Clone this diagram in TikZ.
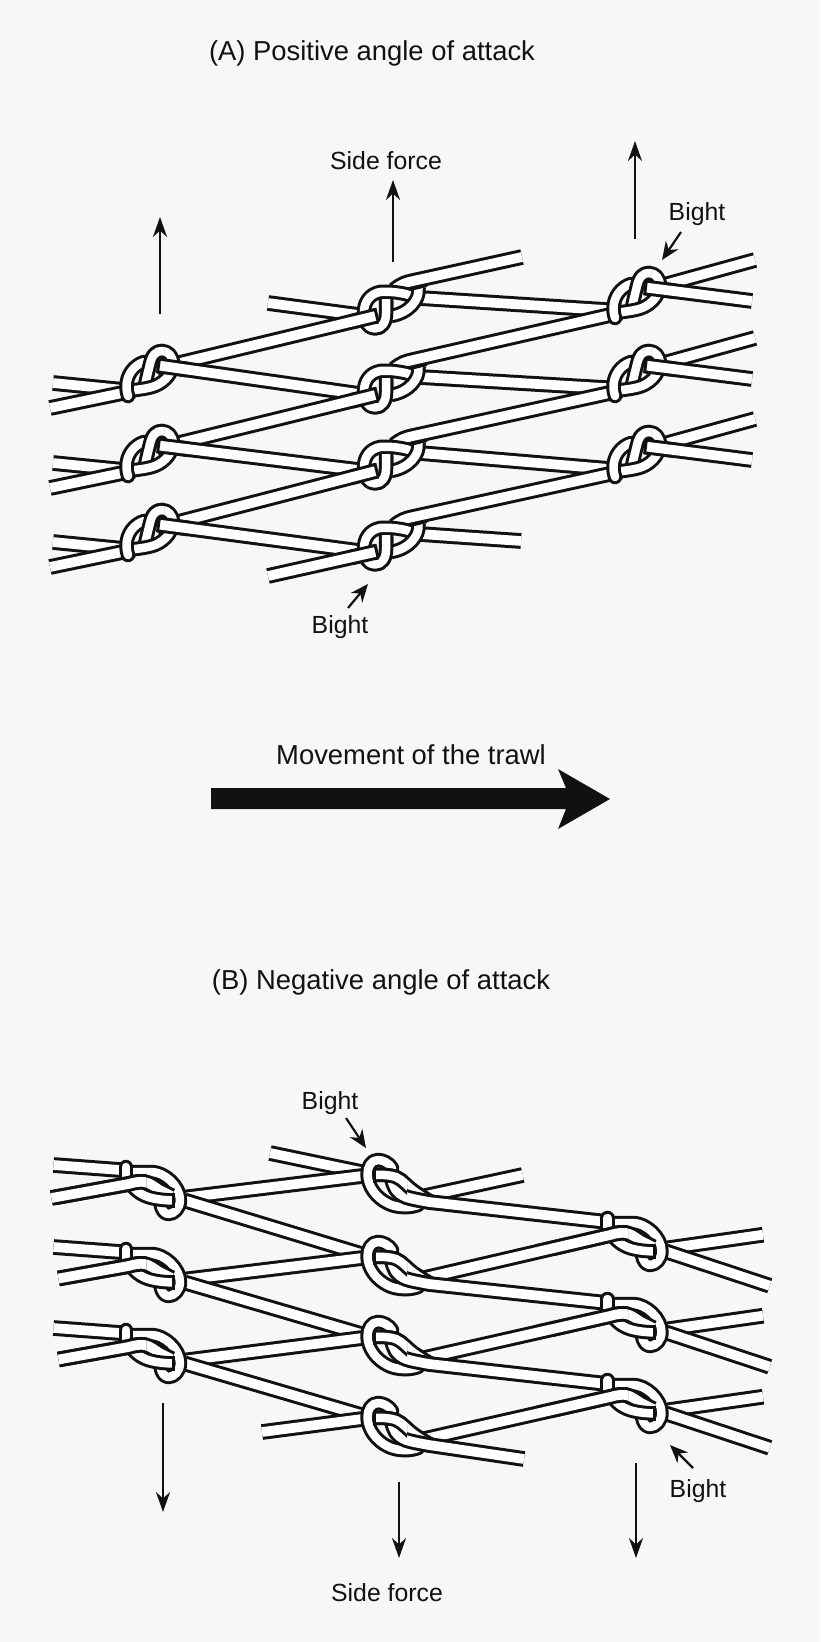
\documentclass[tikz,border=0pt]{standalone}
\usepackage{fontspec}
\setmainfont{Liberation Sans}
\usetikzlibrary{calc,arrows.meta}
\definecolor{bgc}{HTML}{F7F7F7}
\definecolor{ink}{HTML}{111111}
\tikzset{
  tw/.style={double=white,double distance=9.7pt,line width=3pt,line join=round,draw=ink},
  tk/.style={double=white,double distance=8.5pt,line width=3pt,line join=round,draw=ink},
  tkr/.style={tk,line cap=round},
  tick/.style={line width=3pt,draw=ink},
  force/.style={line width=2.5pt,draw=ink,-{Stealth[length=20pt,width=14pt]}},
  bightarrow/.style={line width=2.2pt,draw=ink,-{Stealth[length=18pt,width=15pt]}},
  title/.style={font=\fontsize{27.4}{32}\selectfont,text=ink,inner sep=0pt},
  lab/.style={font=\fontsize{24.8}{29}\selectfont,text=ink,inner sep=0pt}
}
\newcommand\stubclosed[3]{%
  \draw[tw] (#1) -- ($(#1)!#3pt!(#2)$);
  \draw[white,line width=9pt] ($(#1)!#3pt-2pt!(#2)$) -- ($(#1)!#3pt+2pt!(#2)$);
  \draw[tick] ($(#1)!7.85pt!90:(#2)$) -- ($(#1)!7.85pt!-90:(#2)$);
}
\newcommand\knotP[2]{%
\begin{scope}[shift={(#1)}]
  \def\slant{(-4,12) .. controls (-2,3) and (0,-5) .. (1,-9) .. controls (3,-18) and (7,-22) .. (13,-22) .. controls (19,-22) and (24,-17) .. (24,-9)}
  \draw[tk] \slant;
  \draw[tk] (24,-12) .. controls (24.5,-2) and (18,8) .. (6,13) .. controls (-2,16) and (-12,16.5) .. (-20,18);
  \draw[tkr] (-5,-11) .. controls (-15,-8) and (-22.5,2) .. (-22.5,13) .. controls (-22.5,17) and (-22,20) .. (-21,23);
  \begin{scope}
    \clip (-30,-3) rectangle (15,-40);
    \draw[tk] \slant;
  \end{scope}
  \stubclosed{9.5,-7.5}{#2}{30}
\end{scope}}
\newcommand\knotK[2]{%
\begin{scope}[shift={(#1)}]
  \def\loopp{(24,-13) .. controls (14,-17) and (0,-19) .. (-11,-18) .. controls (-22,-16) and (-27,-7) .. (-27,2) .. controls (-27,12) and (-23,18.5) .. (-16,18.5) .. controls (-9,18.5) and (-5,12) .. (-5,4) -- (-5,-11)}
  \draw[tk] \loopp;
  \draw[tk] (27.5,-22.5) .. controls (29,-10) and (18,3) .. (0,6);
  \draw[tick] (19,-20.5) -- (36,-24.5);
  \stubclosed{-14.3,5.7}{#2}{26}
  \begin{scope}
    \clip (-12,-9) rectangle (8,30);
    \draw[tk] \loopp;
  \end{scope}
\end{scope}}
\newcommand\knotM[2]{%
\begin{scope}[shift={(#1)}]
  \def\inner{(-12,-5) .. controls (-4,-5.5) and (4,-5) .. (10,-3) .. controls (17,0) and (22,7) .. (28,11) .. controls (34,15) and (41,20) .. (48,23)}
  \draw[tkr] (6,-12) .. controls (3,-17) and (-3,-20) .. (-8,-20) .. controls (-15,-20) and (-18.5,-13) .. (-18.5,-6) .. controls (-18.5,6) and (-10,18) .. (3,24) .. controls (12,28) and (24,28) .. (32,25);
  \draw[tk] \inner;
  \draw[tw] (6,-2) .. controls (7,6) and (10,13) .. (20,17) .. controls (26,19) and (35,20.5) .. (43,22) -- (#2);
  \begin{scope}
    \clip (-20,-25) rectangle (21,14);
    \draw[tk] \inner;
  \end{scope}
  \draw[tick] (-12,-12.5) -- (-12,2.5);
\end{scope}}
\newcommand\knotS[2]{%
\begin{scope}[shift={(#1)}]
  \draw[tk] (-30,-20) -- (-10,-20) .. controls (3,-20) and (18.5,-6) .. (18.5,8) .. controls (18.5,16) and (13,22) .. (7,22) .. controls (3,22) and (0,18) .. (-1,12);
  \draw[tkr] (-35.6,-15) -- (-35.6,-25);
  \def\mainp{(#2) -- (-33,-8) .. controls (-26,-10) and (-22,-10.5) .. (-17,-10) .. controls (-11,-9) and (-7,-5) .. (-2,-2) -- (10,4)}
  \draw[tw] \mainp;
  \draw[tk] (-30,-7) .. controls (-25,0) and (-18,4) .. (-10,6) .. controls (-4,7.5) and (4,8.4) .. (11.7,8.4);
  \draw[tick] (11.7,1) -- (11.7,15.5);
  \begin{scope}
    \clip (-130,-40) rectangle (-15,12);
    \draw[tw] \mainp;
  \end{scope}
\end{scope}}
\begin{document}
\begin{tikzpicture}[x=1pt,y=-1pt]
\useasboundingbox (0,0) rectangle (820,1642);
\fill[bgc] (0,0) rectangle (820,1642);
\node[title] (ta) at (372,53) {(A) Positive angle of attack};
\node[title] (tb) at (381,982) {(B) Negative angle of attack};
\node[title] (mv) at (411,755) {Movement of the trawl};
\node[lab] (sa) at (386,161) {Side force};
\node[lab] (sb) at (387,1593) {Side force};
\node[lab] (b1) at (697,214) {Bight};
\node[lab] (b2) at (340,627) {Bight};
\node[lab] (b3) at (330,1103) {Bight};
\node[lab] (b4) at (698,1491) {Bight};
\fill[ink] (211,788) -- (566,788) -- (558,769) -- (610,799) -- (558,829) -- (566,809) -- (211,809) -- cycle;
% panel A
\foreach \n/\p in {a11/{149,373},a12/{149,453},a13/{149,532},a21/{391,310},a22/{391,389},a23/{391,465},a24/{391,546},a31/{636,295},a32/{636,373},a33/{636,454}}
  \coordinate (\n) at (\p);
\foreach \k in {a11,a12,a13}{
  \draw[tw] ($(\k)+(-96,10)$) -- ($(\k)+(-15,18)$);
  \draw[tw] ($(\k)+(-99,35)$) -- ($(\k)+(-15,17.6)$);
}
\coordinate (e21) at ($(a21)+(-14.3,5.7)$);
\coordinate (e22) at ($(a22)+(-14.3,5.7)$);
\coordinate (e23) at ($(a23)+(-14.3,5.7)$);
\coordinate (e24) at ($(a24)+(-14.3,5.7)$);
\coordinate (s21) at ($(a11)+(8,-4.5)$);
\coordinate (s22) at ($(a12)+(8,-4.5)$);
\coordinate (s23) at ($(a13)+(8,-4.5)$);
\coordinate (s24) at ($(a24)+(-123,30)$);
\coordinate (f11) at ($(a11)+(9.5,-7.5)$);
\coordinate (f12) at ($(a12)+(9.5,-7.5)$);
\coordinate (f13) at ($(a13)+(9.5,-7.5)$);
\coordinate (x11) at ($(a22)+(-25,6)$);
\coordinate (x12) at ($(a23)+(-25,6)$);
\coordinate (x13) at ($(a24)+(-25,6)$);
\coordinate (x31) at ($(a31)+(116,6)$);
\coordinate (x32) at ($(a32)+(116,6)$);
\coordinate (x33) at ($(a33)+(116,6)$);
\draw[tw] ($(a21)+(-123,-7)$) -- ($(a21)+(-25,6)$);
\draw[tw] (s21) -- (e21);
\draw[tw] (f11) -- (x11);
\draw[tw] (s22) -- (e22);
\draw[tw] (f12) -- (x12);
\draw[tw] (s23) -- (e23);
\draw[tw] (f13) -- (x13);
\draw[tw] (s24) -- (e24);
\foreach \u/\v in {a21/a31,a22/a32,a23/a33}
  \draw[tw] ($(\u)+(29,-12)$) -- ($(\v)+(-15,16)$);
\draw[tw] ($(a24)+(29,-12)$) -- ($(a24)+(130,-5)$);
\foreach \u/\v in {a22/a31,a23/a32,a24/a33}
  \draw[tw] ($(\u)+(3,-20)$) .. controls ($(\u)+(10,-26)$) and ($(\u)+(15,-27.5)$) .. ($(\u)+(22,-29)$) -- ($(\v)+(-15,17.5)$);
\draw[tw] ($(a21)+(3,-20)$) .. controls ($(a21)+(10,-26)$) and ($(a21)+(15,-27.5)$) .. ($(a21)+(22,-29)$) -- ($(a21)+(131,-53)$);
\foreach \k/\t in {a31/x31,a32/x32,a33/x33}{
  \draw[tw] ($(\k)+(10,-5)$) -- ($(\k)+(119,-35)$);
  \draw[tw] ($(\k)+(9.5,-7.5)$) -- (\t);
}
\knotP{a11}{x11}\knotP{a12}{x12}\knotP{a13}{x13}
\knotK{a21}{s21}\knotK{a22}{s22}\knotK{a23}{s23}\knotK{a24}{s24}
\knotP{a31}{x31}\knotP{a32}{x32}\knotP{a33}{x33}
% panel B
\foreach \n/\p in {b11/{161.5,1192},b12/{161.5,1274},b13/{161.5,1355},b21/{386,1180},b22/{386,1262},b23/{386,1342},b24/{386,1423},b31/{643,1243},b32/{643,1324},b33/{643,1405}}
  \coordinate (\n) at (\p);
\foreach \k in {b31,b32,b33}{
  \draw[tw] ($(\k)+(20,6)$) -- ($(\k)+(120,-8.3)$);
  \draw[tw] ($(\k)+(23,8.4)$) -- ($(\k)+(126.7,42.7)$);
}
\foreach \k in {b11,b12,b13}
  \draw[tw] ($(\k)+(-108,-27)$) -- ($(\k)+(-36,-21.6)$);
\draw[tw] ($(b21)+(-116,-27)$) -- ($(b21)+(-25,-8)$);
\draw[tw] ($(b11)+(20,6)$) -- ($(b21)+(-24,-4)$);
\draw[tw] ($(b11)+(23,8.4)$) -- ($(b22)+(-25,-8)$);
\draw[tw] ($(b12)+(20,6)$) -- ($(b22)+(-24,-4)$);
\draw[tw] ($(b12)+(23,8.4)$) -- ($(b23)+(-25,-8)$);
\draw[tw] ($(b13)+(20,6)$) -- ($(b23)+(-24,-4)$);
\draw[tw] ($(b13)+(23,8.4)$) -- ($(b24)+(-25,-8)$);
\draw[tw] ($(b24)+(-124,9)$) -- ($(b24)+(-24,-4)$);
\coordinate (m11) at ($(b11)+(-110,6)$);
\coordinate (m12) at ($(b12)+(-103,4.5)$);
\coordinate (m13) at ($(b13)+(-103,4.5)$);
\coordinate (r22) at ($(b22)+(43,15)$);
\coordinate (r23) at ($(b23)+(43,15)$);
\coordinate (r24) at ($(b24)+(43,15)$);
\coordinate (q31) at ($(b31)+(-33,-8)$);
\coordinate (q32) at ($(b32)+(-33,-8)$);
\coordinate (q33) at ($(b33)+(-33,-8)$);
\coordinate (m31) at ($(r22)!.6!(q31)$);
\coordinate (m32) at ($(r23)!.6!(q32)$);
\coordinate (m33) at ($(r24)!.6!(q33)$);
\draw[tw] ($(b21)+(30,18)$) -- ($(b21)+(136.7,-5)$);
\draw[tw] ($(r22)!-15pt!(q31)$) -- (m31);
\draw[tw] ($(r23)!-15pt!(q32)$) -- (m32);
\draw[tw] ($(r24)!-15pt!(q33)$) -- (m33);
\coordinate (t21) at ($(b31)+(-36,-21)$);
\coordinate (t22) at ($(b32)+(-36,-21)$);
\coordinate (t23) at ($(b33)+(-36,-21)$);
\coordinate (t24) at ($(b24)+(138,36)$);
\knotS{b11}{m11}\knotS{b12}{m12}\knotS{b13}{m13}
\knotM{b21}{t21}\knotM{b22}{t22}\knotM{b23}{t23}\knotM{b24}{t24}
\knotS{b31}{m31}\knotS{b32}{m32}\knotS{b33}{m33}
\draw[white,line width=9pt] ($(m31)!-2pt!(q31)$) -- ($(m31)!2pt!(q31)$);
\draw[white,line width=9pt] ($(m32)!-2pt!(q32)$) -- ($(m32)!2pt!(q32)$);
\draw[white,line width=9pt] ($(m33)!-2pt!(q33)$) -- ($(m33)!2pt!(q33)$);
% thin arrows
\coordinate (fa1s) at (160,314); \coordinate (fa1e) at (160,217);
\coordinate (fa2s) at (393,262); \coordinate (fa2e) at (393,180);
\coordinate (fa3s) at (635,239); \coordinate (fa3e) at (635,141);
\coordinate (fb1s) at (163,1403); \coordinate (fb1e) at (163,1512);
\coordinate (fb2s) at (399,1482); \coordinate (fb2e) at (399,1558);
\coordinate (fb3s) at (636,1463); \coordinate (fb3e) at (636,1558);
\draw[force] (fa1s) -- (fa1e);
\draw[force] (fa2s) -- (fa2e);
\draw[force] (fa3s) -- (fa3e);
\draw[force] (fb1s) -- (fb1e);
\draw[force] (fb2s) -- (fb2e);
\draw[force] (fb3s) -- (fb3e);
\coordinate (ba1s) at (681,232); \coordinate (ba1e) at (662,260);
\coordinate (ba2s) at (348,608); \coordinate (ba2e) at (368,584);
\coordinate (ba3s) at (346,1118); \coordinate (ba3e) at (366,1148);
\coordinate (ba4s) at (693,1468); \coordinate (ba4e) at (670,1445);
\draw[bightarrow] (ba1s) -- (ba1e);
\draw[bightarrow] (ba2s) -- (ba2e);
\draw[bightarrow] (ba3s) -- (ba3e);
\draw[bightarrow] (ba4s) -- (ba4e);
\end{tikzpicture}
\end{document}
